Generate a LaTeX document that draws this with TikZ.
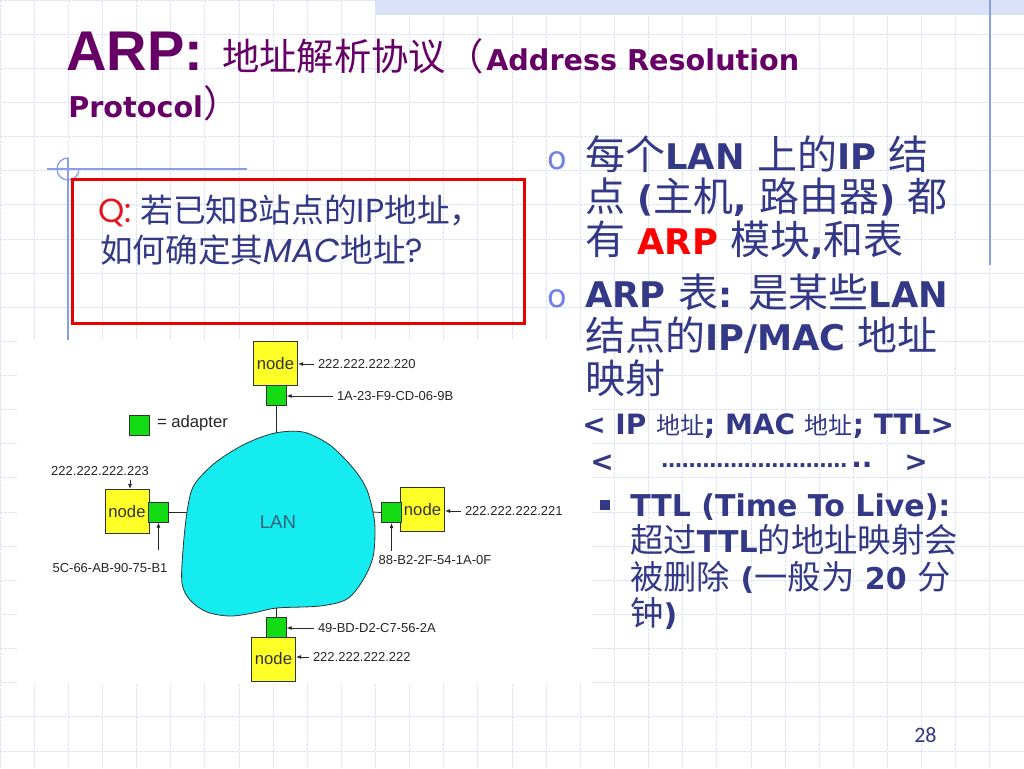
\documentclass[tikz,border=0pt]{standalone}
\usepackage{fontspec}
\setmainfont{DejaVu Sans}
\newfontfamily\cjk{Noto Sans CJK SC}
\newfontfamily\arialf{Liberation Sans}
\newfontfamily\qf{Poppins}
\newfontfamily\carl{Carlito}
\usetikzlibrary{arrows.meta,calc}
\definecolor{ttlc}{RGB}{102,0,102}
\definecolor{navy}{RGB}{51,56,135}
\definecolor{gridc}{RGB}{222,226,244}
\definecolor{blueline}{RGB}{138,158,230}
\definecolor{bandc}{RGB}{217,226,247}
\definecolor{bulletc}{RGB}{112,130,230}
\definecolor{boxred}{RGB}{230,0,0}
\definecolor{qred}{RGB}{232,20,27}
\definecolor{ylw}{RGB}{255,255,40}
\definecolor{grn}{RGB}{20,220,20}
\definecolor{lanc}{RGB}{20,236,240}
\definecolor{lantext}{RGB}{47,100,120}
\newcommand\zh[2]{{\fontsize{#1}{#1}\mdseries\cjk #2}}
\newcommand\zA[1]{\zh{30pt}{#1}}
\newcommand\zB[1]{\zh{18pt}{#1}}
\newcommand\zC[1]{\zh{25pt}{#1}}
\newcommand\zT[1]{\zh{28pt}{#1}}
\newcommand\zQ[1]{\zh{24.5pt}{#1}}
\tikzset{
  gridline/.style={gridc, line width=0.6pt, dash pattern=on 2pt off 1pt},
  deco/.style={blueline, line width=1pt},
  title/.style={ttlc, inner sep=0pt, anchor=base west},
  rt/.style={navy, inner sep=0pt, anchor=base west, font=\fontsize{26.5pt}{30pt}\selectfont\bfseries},
  rt2/.style={navy, inner sep=0pt, anchor=base west, font=\fontsize{21pt}{24pt}\selectfont\bfseries},
  rt3/.style={navy, inner sep=0pt, anchor=base west, font=\fontsize{22.5pt}{26pt}\selectfont\bfseries},
  bul/.style={bulletc, inner sep=0pt, anchor=base west, font=\fontsize{24pt}{24pt}\selectfont},
  qt/.style={navy, inner sep=0pt, anchor=base west, font=\qf\fontsize{25pt}{28pt}\selectfont},
  nodebox/.style={draw=black!80, fill=ylw, minimum width=33pt, minimum height=33pt, inner sep=0pt, line width=0.6pt, font=\arialf\fontsize{12.5pt}{13pt}\selectfont, text=black!80},
  adapter/.style={draw=black!80, fill=grn, minimum size=15pt, inner sep=0pt, line width=0.6pt},
  lbl/.style={font=\arialf\fontsize{9.75pt}{10pt}\selectfont, inner sep=0pt, outer sep=3pt, text=black!85},
  arr/.style={-{Latex[length=4pt,width=3pt]}, line width=0.6pt, black!85},
  wire/.style={line width=0.6pt, black!85}
}
\begin{document}
\begin{tikzpicture}[x=0.75pt,y=-0.75pt]
\useasboundingbox (0,0) rectangle (1024,768);
\fill[white] (0,0) rectangle (1024,768);
% grid
\foreach \i in {0,...,30} \draw[gridline] (\i*34.133,0) -- (\i*34.133,768);
\foreach \j in {0,...,22} \draw[gridline] (0,\j*34.133) -- (1024,\j*34.133);
% top band
\fill[bandc] (375,0) rectangle (1024,15);
% decorative lines
\draw[deco] (990,0) -- (990,265);
\draw[deco] (47,169) -- (247,169);
\draw[deco] (68,158) -- (68,340);
\draw[deco] (68,169) ++(270:11) arc[start angle=270, end angle=0, radius=11];
% diagram background
\fill[white] (17,340) rectangle (592,683);

% title
\node[title, font=\arialf\fontsize{42pt}{44pt}\selectfont\bfseries] (t1) at (66,70) {ARP:};
\node[title] (t2) at (222,70) {\zT{地址解析协议（}};
\node[title, font=\fontsize{21.5pt}{24pt}\selectfont\bfseries] (t3) at (486,70) {Address Resolution};
\node[title, font=\fontsize{21.5pt}{24pt}\selectfont\bfseries] (t4) at (68,117) {Protocol\zT{）}};

% Q box
\draw[boxred, line width=2.25pt] (72,179) rectangle (524,323);
\node[qt] (q1) at (98,222) {{\color{qred}Q:} \zQ{若已知}B\zQ{站点的}IP\zQ{地址，}};
\node[qt] (q2) at (100,262) {\zQ{如何确定其}{\itshape MAC}\zQ{地址}?};

% right column
\node[bul] (b1) at (547,169) {o};
\node[rt] (r1) at (585,169) {\zA{每个}LAN \zA{上的}IP \zA{结}};
\node[rt] (r2) at (585,211) {\zA{点} (\zA{主机}, \zA{路由器}) \zA{都}};
\node[rt] (r3) at (585,254) {\zA{有} {\color{red}ARP} \zA{模块},\zA{和表}};
\node[bul] (b2) at (547,307) {o};
\node[rt] (r4) at (585,307) {ARP \zA{表}: \zA{是某些}LAN};
\node[rt] (r5) at (585,350) {\zA{结点的}IP/MAC \zA{地址}};
\node[rt] (r6) at (585,393) {\zA{映射}};
\node[rt2] (r7) at (582,434) {< IP \zB{地址}; MAC \zB{地址}; TTL>};
\node[rt2] (r8a) at (590,471) {<};
\node[rt2, font=\fontsize{15.5pt}{16pt}\selectfont\bfseries] (r8b) at (661,467) {………………………};
\node[rt2] (r8c) at (851,467) {..};
\node[rt2] (r8d) at (904,471) {>};
\node[fill=navy, minimum size=7.5pt, inner sep=0pt] (sq) at (605,505) {};
\node[rt3] (r9) at (630,516) {TTL (Time To Live):};
\node[rt3] (r10) at (630,552) {\zC{超过}TTL\zC{的地址映射会}};
\node[rt3] (r11) at (630,589) {\zC{被删除} (\zC{一般为} 20 \zC{分}};
\node[rt3] (r12) at (630,625) {\zC{钟})};

% page number
\node[navy, inner sep=0pt, anchor=base west, font=\carl\fontsize{16.5pt}{18pt}\selectfont] (pg) at (914,742) {28};

% ---- network diagram ----
\draw[black!80, line width=0.6pt, fill=lanc] plot[smooth cycle, tension=0.55] coordinates {
 (187,512) (193,487) (207,470) (223,457) (247,443) (275,433) (303,432) (327,443)
 (343,457) (357,473) (367,490) (373,512) (375,530) (373,557) (363,580) (347,599)
 (320,606) (277,608) (253,613) (230,616) (207,612) (190,600) (182,583) (183,550)};
\coordinate (lanN) at (276,433);
\coordinate (lanW) at (187,512);
\coordinate (lanE) at (373,512);
\coordinate (lanS) at (276,608);
\node[font=\arialf\fontsize{14pt}{15pt}\selectfont, text=lantext] (lan) at (278,522) {LAN};

\node[nodebox] (nodeT) at (275.5,363.5) {node};
\node[nodebox] (nodeL) at (127,511.5) {node};
\node[nodebox] (nodeR) at (422.5,509.5) {node};
\node[nodebox] (nodeB) at (273.5,659) {node};
\node[adapter] (adT) at (276,395.5) {};
\node[adapter] (adL) at (158.5,512) {};
\node[adapter] (adR) at (391.5,512.5) {};
\node[adapter] (adB) at (276,627.5) {};

\draw[wire] (adT.south) -- (lanN);
\draw[wire] (adL.east) -- (lanW);
\draw[wire] (lanE) -- (adR.west);
\draw[wire] (lanS) -- (adB.north);

% legend
\node[adapter] (adLg) at (139,425.5) {};
\node[lbl, font=\arialf\fontsize{12.5pt}{13pt}\selectfont, anchor=west] (lg) at (153,423) {= adapter};

% labels
\node[lbl, anchor=west] (ipT) at (314,364) {222.222.222.220};
\node[lbl, anchor=west] (macT) at (333,396) {1A-23-F9-CD-06-9B};
\node[lbl, anchor=west] (ipR) at (461,511) {222.222.222.221};
\node[lbl] (macR) at (435,560) {88-B2-2F-54-1A-0F};
\node[lbl] (ipL) at (100,471) {222.222.222.223};
\node[lbl] (macL) at (110,568) {5C-66-AB-90-75-B1};
\node[lbl, anchor=west] (macB) at (314,628) {49-BD-D2-C7-56-2A};
\node[lbl, anchor=west] (ipB) at (309,657) {222.222.222.222};

\draw[arr] (ipT.west) -- (ipT.west -| nodeT.east);
\draw[arr] (macT.west) -- (macT.west -| adT.east);
\draw[arr] (ipR.west) -- (ipR.west -| nodeR.east);
\draw[arr] (macB.west) -- (macB.west -| adB.east);
\draw[arr] (ipB.west) -- (ipB.west -| nodeB.east);
\draw[arr] ([xshift=2.25pt]nodeL.north |- ipL.south) -- ([xshift=2.25pt]nodeL.north);
\draw[arr] ($(adL.south)+(0,28)$) -- (adL.south);
\draw[arr] ($(adR.south)+(0,28)$) -- (adR.south);
\end{tikzpicture}
\end{document}
